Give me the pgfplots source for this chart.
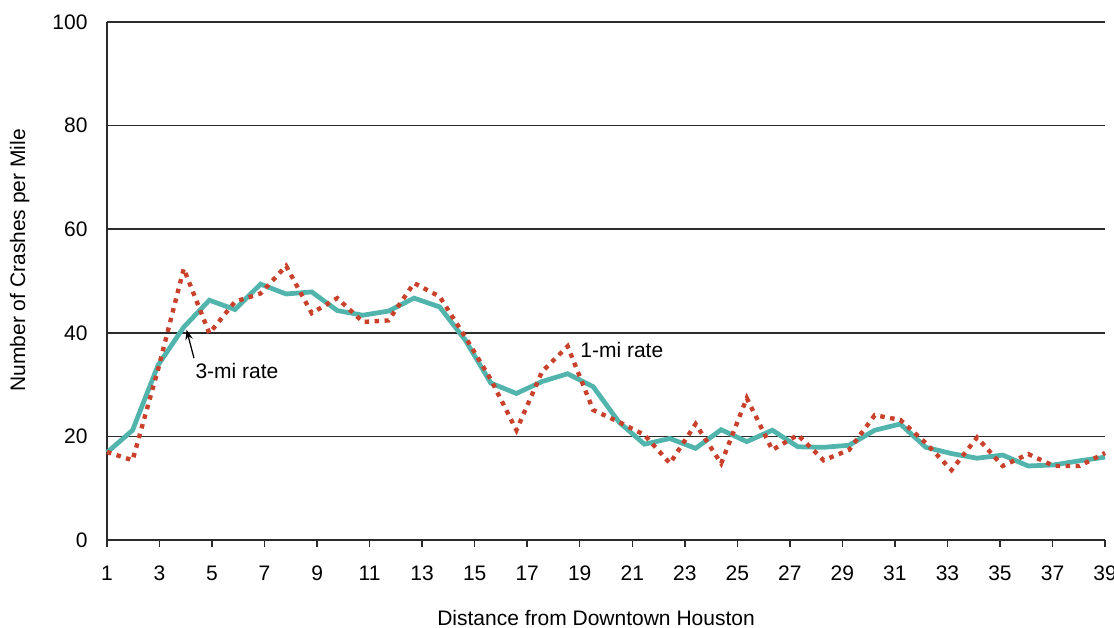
\documentclass[border=0pt]{standalone}
\usepackage{pgfplots}
\pgfplotsset{compat=1.18}
\usepackage{fontspec}
\setmainfont{Liberation Sans}
\usetikzlibrary{arrows.meta}
\definecolor{teal3}{HTML}{52B5AD}
\definecolor{rust1}{HTML}{C9412B}
\definecolor{gridk}{HTML}{2B2B2B}

% x = point index 0..39 (40 points drawn evenly from mile 1 to mile 39)
\pgfplotstableread{
i  r3    r1
0  16.9  17.0
1  21.2  15.4
2  33.8  33.0
3  41.1  52.4
4  46.3  39.9
5  44.5  46.0
6  49.4  47.6
7  47.5  52.9
8  47.9  43.8
9  44.3  46.7
10 43.4  42.1
11 44.2  42.4
12 46.7  49.6
13 45.0  47.0
14 38.6  39.2
15 30.3  31.0
16 28.3  21.2
17 30.6  32.5
18 32.1  37.4
19 29.6  25.1
20 22.8  22.8
21 18.5  20.3
22 19.6  14.8
23 17.7  22.4
24 21.3  14.8
25 19.0  27.4
26 21.2  17.4
27 18.0  20.3
28 17.9  15.4
29 18.3  17.4
30 21.2  24.1
31 22.4  23.2
32 17.9  18.7
33 16.7  13.5
34 15.8  19.8
35 16.4  14.3
36 14.3  16.6
37 14.5  14.3
38 15.3  14.3
39 16.0  16.8
}\crash

\begin{document}
\begin{tikzpicture}[font=\fontsize{8.4}{10}\selectfont]
\begin{axis}[
  scale only axis,
  width=399.2pt, height=207.2pt,
  xmin=0, xmax=39, ymin=0, ymax=100,
  axis lines=left,
  axis line style={-, draw=gridk, line width=0.6pt},
  xtick={0,2.0526,4.1053,6.1579,8.2105,10.2632,12.3158,14.3684,16.4211,18.4737,
         20.5263,22.5789,24.6316,26.6842,28.7368,30.7895,32.8421,34.8947,36.9474,39},
  xticklabels={1,3,5,7,9,11,13,15,17,19,21,23,25,27,29,31,33,35,37,39},
  ytick={0,20,40,60,80,100},
  tick align=outside,
  x tick style={draw=gridk, line width=0.6pt},
  xtick style={/pgfplots/major tick length=2.6pt},
  y tick style={draw=none},
  ymajorgrids,
  grid style={draw=gridk, line width=0.6pt},
  /pgf/number format/assume math mode=true,
  xticklabel style={font=\fontsize{8.4}{10}\selectfont, yshift=-2.5pt},
  yticklabel style={font=\fontsize{8.4}{10}\selectfont},
  xlabel={Distance from Downtown Houston},
  ylabel={Number of Crashes per Mile},
  every axis x label/.style={at={(rel axis cs:0.49,-0.164)}, anchor=base},
  every axis y label/.style={at={(rel axis cs:-0.0875,0.54)}, anchor=center, rotate=90},
  clip=false,
]
\addplot[teal3, line width=1.9pt, line join=miter] table[x=i, y=r3] {\crash};
\addplot[rust1, line width=1.75pt, dash pattern=on 1.8pt off 2.2pt] table[x=i, y=r1] {\crash};
\draw[-{Stealth[length=4pt,width=3pt]}, line width=0.5pt, black]
  (axis cs:3.4,35.1) -- (axis cs:3.11,40.6);
\node[anchor=west, inner sep=0pt] at (axis cs:3.44,32.7) {3-mi rate};
\node[anchor=west, inner sep=0pt] at (axis cs:18.48,36.7) {1-mi rate};
\coordinate (bl) at (rel axis cs:-0.1072,-0.168);
\coordinate (tr) at (rel axis cs:1.009,1.0425);
\end{axis}
\pgfresetboundingbox
\path[use as bounding box] (bl) rectangle (tr);
\end{tikzpicture}
\end{document}
